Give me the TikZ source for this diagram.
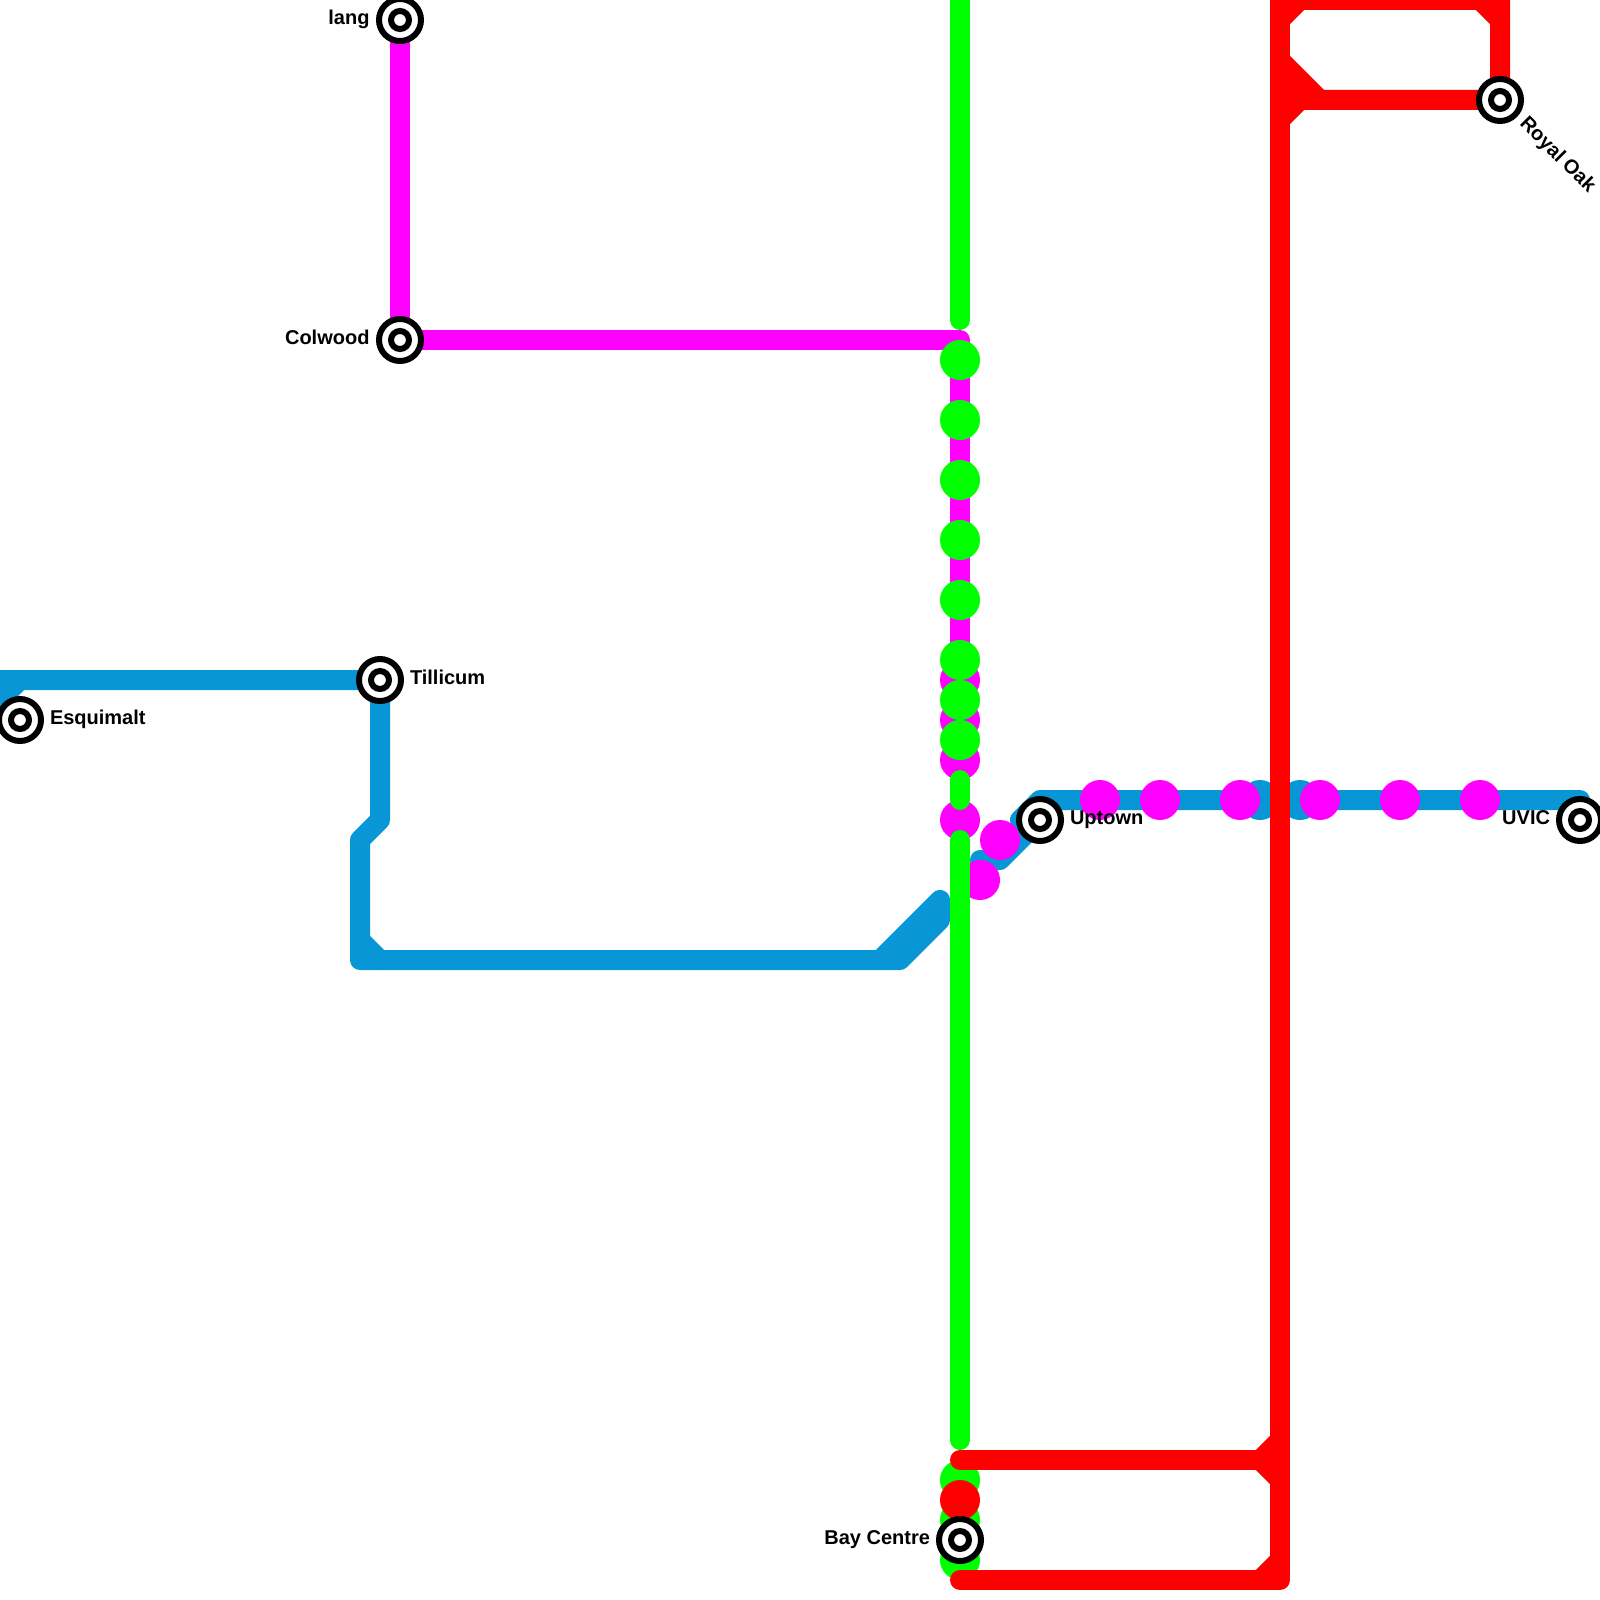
\documentclass[tikz,border=0pt]{standalone}
\usepackage{fontspec}
\setmainfont{Liberation Sans}
\definecolor{lineblue}{HTML}{0896D7}
\definecolor{linemag}{HTML}{FF00FF}
\definecolor{linegreen}{HTML}{00FF00}
\definecolor{linered}{HTML}{FF0000}
\tikzset{
  metro/.style={line width=10pt,line cap=round,line join=round},
  stop/.style={circle,inner sep=0pt,outer sep=0pt,minimum size=20pt,fill=#1},
  stationouter/.style={circle,inner sep=0pt,outer sep=0pt,minimum size=21pt,draw=black,fill=white,line width=3pt},
  stationinner/.style={circle,inner sep=0pt,outer sep=0pt,minimum size=9pt,draw=black,fill=white,line width=3pt},
  lbl/.style={inner sep=0pt,outer sep=0pt,font=\fontsize{10pt}{11pt}\selectfont\bfseries,text=black},
}
\begin{document}
\begin{tikzpicture}[x=0.5pt,y=-0.5pt]
\useasboundingbox (0,0) rectangle (1600,1600);
\fill[white] (0,0) rectangle (1600,1600);
\clip (0,0) rectangle (1600,1600);
% station positions and junctions
\coordinate (lang) at (400,20);
\coordinate (colwood) at (400,340);
\coordinate (tillicum) at (380,680);
\coordinate (esquimalt) at (20,720);
\coordinate (uptown) at (1040,820);
\coordinate (uvic) at (1580,820);
\coordinate (royaloak) at (1500,100);
\coordinate (baycentre) at (960,1540);
% blue line
\draw[metro,lineblue] (-20,680) coordinate (b0) -- (tillicum) -- (380,820) coordinate (b1) -- (360,840) coordinate (b2) -- (360,960) coordinate (b3) -- (900,960) coordinate (b4) -- (940,920) coordinate (b5) -- (940,900) coordinate (b6) -- (880,960) coordinate (b7);
\draw[metro,lineblue] (b2 |- b3) ++(0,-20) coordinate (b8) -- (380,960) coordinate (b9);
\draw[metro,lineblue] (0,700) coordinate (b10) -- (20,680) coordinate (b11);
\draw[metro,lineblue] (0,680) coordinate (b12) -- (0,720) coordinate (b13);
\draw[metro,lineblue] (980,860) coordinate (b14) -- (1000,860) coordinate (b15) -- (uptown) -- (1020,820) coordinate (b16) -- (1040,800) coordinate (b17) -- (1580,800) coordinate (b18) -- (uvic);
\foreach \n/\x in {a/1260,b/1300} \node[stop=lineblue] (bs\n) at (\x,800) {};
% magenta line
\draw[metro,linemag] (lang) -- (colwood) -- (960,340) coordinate (m1) -- (960,680) coordinate (m2);
\foreach \n/\x/\y in {a/960/680,b/960/720,c/960/760,d/960/820,e/1000/840,f/980/880,g/1100/800,h/1160/800,i/1240/800,j/1320/800,k/1400/800,l/1480/800}
  \node[stop=linemag] (ms\n) at (\x,\y) {};
% green line
\foreach \n/\y in {a/360,b/420,c/480,d/540,e/600,f/660,g/700,h/740,i/1480,j/1520,k/1560}
  \node[stop=linegreen] (gs\n) at (960,\y) {};
\draw[metro,linegreen] (960,-20) coordinate (g0) -- (960,320) coordinate (g1);
\draw[metro,linegreen] (960,780) coordinate (g2) -- (960,800) coordinate (g3);
\draw[metro,linegreen] (960,840) coordinate (g4) -- (960,1440) coordinate (g5);
% red line
\node[stop=linered] (rs) at (960,1500) {};
\draw[metro,linered] (960,1460) coordinate (r0) -- (1260,1460) coordinate (r1);
\draw[metro,linered] (960,1580) coordinate (r2) -- (1280,1580) coordinate (r3) -- (1280,-20) coordinate (r4);
\draw[metro,linered] (r1) -- (1280,1440) coordinate (r5);
\draw[metro,linered] (r1) -- (1280,1480) coordinate (r6);
\draw[metro,linered] (1260,1580) coordinate (r7) -- (1280,1560) coordinate (r8);
\draw[metro,linered,line cap=butt] (1280,0) coordinate (r9) -- (1500,0) coordinate (r10) -- (1500,-20) coordinate (r11);
\draw[metro,linered] (r10) -- (royaloak) -- (1300,100) coordinate (r12) -- (1280,120) coordinate (r13);
\draw[metro,linered] (1280,20) coordinate (r14) -- (1300,0) coordinate (r15);
\draw[metro,linered] (1480,0) coordinate (r16) -- (1500,20) coordinate (r17);
\draw[metro,linered] (1280,60) coordinate (r18) -- (1320,100) coordinate (r19);
\fill[linered] (r18) -- (r19) -- (1280,100) -- cycle;
% stations
\foreach \s in {lang,colwood,tillicum,esquimalt,uptown,uvic,royaloak,baycentre} {
  \node[stationouter] (\s-o) at (\s) {};
  \node[stationinner] (\s-i) at (\s) {};
}
% labels
\node[lbl,anchor=base east] (langlbl) at (369.5,24.5) {lang};
\node[lbl,anchor=base east] (colwoodlbl) at (369.5,344.5) {Colwood};
\node[lbl,anchor=base west] (tillicumlbl) at (410,684.5) {Tillicum};
\node[lbl,anchor=base west] (esquimaltlbl) at (50,724.5) {Esquimalt};
\node[lbl,anchor=base west] (uptownlbl) at (1070,824.5) {Uptown};
\node[lbl,anchor=base east] (uviclbl) at (1550,824.5) {UVIC};
\node[lbl,anchor=base east] (baylbl) at (930,1544.5) {Bay Centre};
\node[lbl,anchor=base west,rotate=-45] (royallbl) at (1519,124.5) {Royal Oak};
\end{tikzpicture}
\end{document}
